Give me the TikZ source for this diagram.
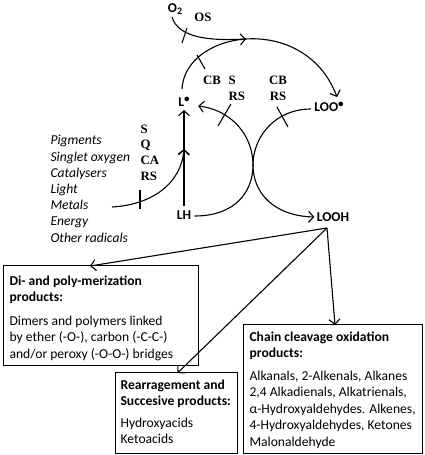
\documentclass[tikz,border=0pt]{standalone}
\usepackage{fontspec}
\setmainfont{Carlito}
\newfontfamily\serifb{Liberation Serif}
\usetikzlibrary{arrows.meta,calc}
\begin{document}
\begin{tikzpicture}[x=1pt,y=-1pt,
  line width=1.1pt,
  tip/.style={-{Straight Barb[length=5pt,width=11pt,line width=1.1pt]}},
  chem/.style={font=\fontsize{13.5}{15}\selectfont\bfseries, inner sep=0pt},
  lab/.style={font=\serifb\fontsize{12.8}{15.8}\selectfont\bfseries, inner sep=0pt, align=left},
  boxst/.style={draw, line width=1pt, anchor=north west, inner sep=0pt},
  boxtxt/.style={anchor=north west, inner sep=0pt, align=left, font=\fontsize{13.6}{16.5}\selectfont}]
\useasboundingbox (0,0) rectangle (425,455);

% species
\node[chem] (O2) at (175,9) {O\raisebox{-0.3ex}{\fontsize{10}{10}\selectfont 2}};
\node[chem] (L) at (184,102) {L\raisebox{0.7ex}{\fontsize{11}{11}\selectfont\textbullet}};
\node[chem] (LOO) at (329,107) {LOO\raisebox{0.7ex}{\fontsize{11}{11}\selectfont\textbullet}};
\node[chem] (LH) at (184,215) {LH};
\node[chem] (LOOH) at (333,217) {LOOH};

% serif labels
\node[lab] (OS) at (203,17) {OS};
\node[lab] (CB1) at (212,80) {CB};
\node[lab, anchor=west] (S1) at (228,80) {S};
\node[lab, anchor=west] (RS1) at (228,96) {RS};
\node[lab] (CB2) at (278,80) {CB};
\node[lab] (RS2) at (278,96) {RS};
\node[lab, anchor=north west] (SQ) at (140,124) {S\\Q\\CA\\RS};

% left list
\node[anchor=north west, inner sep=0pt, align=left,
      font=\fontsize{13.6}{16.2}\selectfont\itshape] (list) at (50,135)
  {Pigments\\Singlet oxygen\\Catalysers\\Light\\Metals\\Energy\\Other radicals};

% coordinates
\coordinate (Ltop) at (182,89);
\coordinate (Lbot) at (184,110);
\coordinate (LHtop) at (184,206);
\coordinate (mid) at (184,149);
\coordinate (merge) at (246,39);
\coordinate (LOOtop) at (337,97);
\coordinate (metal) at (112,207);
\coordinate (apex) at (327,228);

% big arc L -> LOO
\draw[tip] (Ltop) .. controls (185,30) and (305,12) .. (LOOtop);
% O2 entering
\draw[tip] ($(O2.south)+(-3,2)$) .. controls (178,38) and (210,41) .. (merge);
% vertical LH -> L
\draw[tip] (LHtop) -- (Lbot);
\draw[tip] (LHtop) -- (mid);
% from list
\draw[tip] (metal) .. controls (150,205) and (181,185) .. (mid);
% LH -> L via arc
\draw[tip] ($(LH.east)+(3,1)$) .. controls (235,216) and (253,192) .. (253,165)
   .. controls (253,136) and (232,110) .. ($(L.east)+(8,4)$);
% LOO -> LOOH arc
\draw[tip] ($(LOO.west)+(-3,2)$) .. controls (276,109) and (253,136) .. (253,165)
   .. controls (253,194) and (275,216) .. ($(LOOH.west)+(-2,0)$);

% ticks
\draw (182,43) -- (187,28);
\draw (197,55) -- (205,69);
\draw (140,190) -- (140,209);
\draw (218,126) -- (231,104);
\draw (277,107) -- (288,127);

% boxes
\node[boxst, minimum width=195pt, minimum height=100pt] (boxA) at (3,265) {};
\node[boxst, minimum width=122pt, minimum height=81pt] (boxB) at (115,372) {};
\node[boxst, minimum width=179pt, minimum height=129pt] (boxC) at (243,324) {};

\node[boxtxt] (tA) at (9,275) {\textbf{Di- and poly-merization}\\\textbf{products:}\\[7pt]
  Dimers and polymers linked\\by ether (-O-), carbon (-C-C-)\\and/or peroxy (-O-O-) bridges};
\node[boxtxt] (tB) at (120,379) {\textbf{Rearragement and}\\\textbf{Succesive products:}\\[5pt]
  Hydroxyacids\\Ketoacids};
\node[boxtxt] (tC) at (249,331) {\textbf{Chain cleavage oxidation}\\\textbf{products:}\\[6pt]
  Alkanals, 2-Alkenals, Alkanes\\2,4 Alkadienals, Alkatrienals,\\α-Hydroxyaldehydes. Alkenes,\\4-Hydroxyaldehydes, Ketones\\Malonaldehyde};

% LOOH -> products
\draw[tip] (apex) -- ([xshift=-11pt,yshift=-1pt]boxA.north);
\draw[tip] (apex) -- ([xshift=1pt,yshift=-1pt]boxB.north);
\draw[tip] (apex) -- ([xshift=2pt,yshift=-1pt]boxC.north);
\end{tikzpicture}
\end{document}
